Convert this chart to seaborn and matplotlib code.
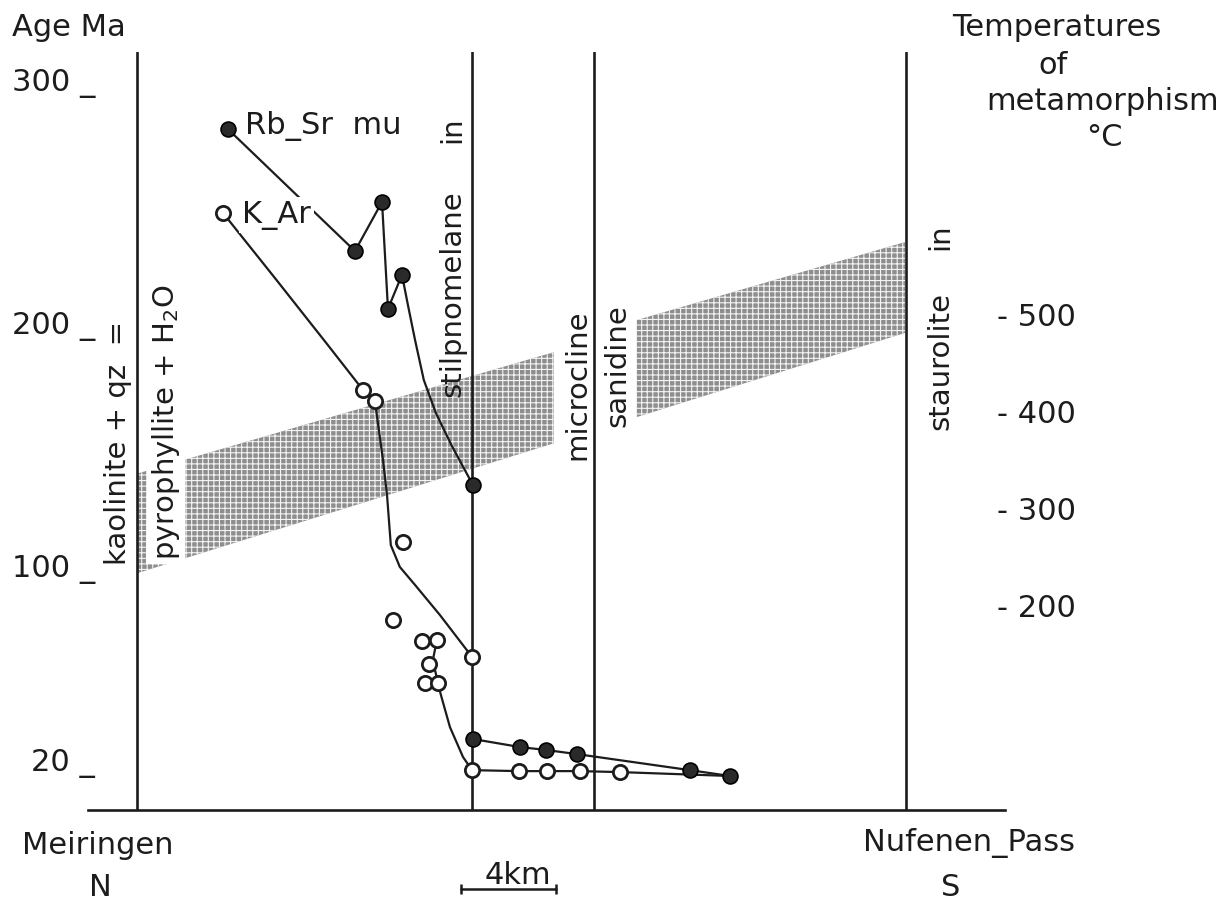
import matplotlib
matplotlib.use("Agg")
import matplotlib.pyplot as plt
import seaborn as sns

# ---------------- data (distance in km from Meiringen, age in Ma) ----------------
rbsr_km = [3.83, 9.18, 10.32, 10.57, 11.16, 14.15, 14.15, 16.13, 17.22, 18.53, 23.28, 24.97]
rbsr_ma = [279.8, 229.6, 249.8, 205.8, 219.8, 133.3, 28.8, 25.5, 24.3, 22.6, 16.0, 13.6]

kar_km = [3.62, 9.52, 10.02, 11.20, 10.78, 12.00, 12.63, 12.29, 12.13, 12.67,
          14.10, 14.11, 16.08, 17.26, 18.65, 20.34]
kar_ma = [245.3, 172.4, 167.9, 109.9, 77.8, 69.1, 69.5, 59.7, 51.9, 51.9,
          62.6, 16.0, 15.6, 15.6, 15.6, 15.2]

# hand-drawn trend curves
rbsr_curve1_km = [3.83, 9.18, 10.32, 10.57, 11.16, 11.41, 11.71, 12.08, 12.59, 13.26, 14.15]
rbsr_curve1_ma = [279.8, 229.6, 249.8, 205.8, 219.8, 207.4, 193.0, 176.5, 162.9, 149.4, 133.3]
rbsr_curve2_km = [14.15, 16.13, 17.22, 18.53, 23.28, 24.97]
rbsr_curve2_ma = [28.8, 25.5, 24.3, 22.6, 16.0, 13.6]
kar_curve1_km = [3.62, 5.81, 8.00, 9.52, 10.02, 10.36, 10.53, 10.69, 11.07, 11.71, 12.76, 13.89, 14.10]
kar_curve1_ma = [245.3, 218.5, 191.4, 172.4, 167.9, 143.6, 129.2, 108.6, 99.6, 92.2, 79.8, 65.4, 62.6]
kar_curve2_km = [12.63, 12.46, 12.67, 12.80, 13.18, 13.73, 14.11, 16.08, 17.26, 18.65, 20.34, 24.97]
kar_curve2_ma = [69.5, 61.3, 51.9, 46.9, 33.7, 21.4, 16.0, 15.6, 15.6, 15.6, 15.2, 13.6]

# isograd positions (km): Meiringen / stilpnomelane-in / microcline-sanidine / staurolite-in
isograd_km = [0.0, 14.10, 19.24, 32.38]

# temperature bands (stippled)
band1_km = [0.0, 17.55]
band1_top = [138.0, 188.0]
band1_bot = [97.0, 150.5]
band2_km = [21.05, 32.34]
band2_top = [201.2, 233.3]
band2_bot = [161.3, 195.9]

age_ticks = [20, 100, 200, 300]
age_labels = ["20 _", "100 _", "200 _", "300 _"]
temp_ticks = [200, 300, 400, 500]
temp_labels = ["- 200", "- 300", "- 400", "- 500"]

# ---------------- figure ----------------
sns.set_theme(style="white")
plt.rcParams["font.family"] = ["DejaVu Sans"]
plt.rcParams["hatch.linewidth"] = 0.8
INK = "#1c1c1c"
FS = 22
FSV = 21

W, H = 1229, 902
fig = plt.figure(figsize=(W / 100, H / 100), dpi=100)
fig.patch.set_facecolor("white")
ax = fig.add_axes([88 / W, 1 - 810 / H, (1005 - 88) / W, (810 - 52) / H])
ax.set_facecolor("white")
ax.set_xlim(-2.06, 36.55)
ax.set_ylim(-0.4, 311.5)


def fx(px):
    return px / W


def fy(py):
    return 1 - py / H


# bands
for bx, bt, bb in [(band1_km, band1_top, band1_bot), (band2_km, band2_top, band2_bot)]:
    ax.fill_between(bx, bb, bt, facecolor="#8e8e8e", edgecolor="#f4f4f4",
                    hatch="+++", linewidth=0, zorder=1)

# isograd vertical lines
for xk in isograd_km:
    ax.axvline(xk, color=INK, lw=1.9, zorder=2)

# trend curves
for cx, cy in [(rbsr_curve1_km, rbsr_curve1_ma), (rbsr_curve2_km, rbsr_curve2_ma),
               (kar_curve1_km, kar_curve1_ma), (kar_curve2_km, kar_curve2_ma)]:
    sns.lineplot(x=cx, y=cy, sort=False, estimator=None, color=INK, lw=1.6,
                 ax=ax, zorder=3)

# points
sns.scatterplot(x=kar_km, y=kar_ma, s=105, color="white", edgecolor=INK,
                linewidth=2.0, ax=ax, zorder=5)
sns.scatterplot(x=rbsr_km, y=rbsr_ma, s=115, color="#2a2a2a", edgecolor="#000000",
                linewidth=1.2, ax=ax, zorder=6)

# axes styling
for s in ["left", "right", "top"]:
    ax.spines[s].set_visible(False)
ax.spines["bottom"].set_color(INK)
ax.spines["bottom"].set_linewidth(1.9)
ax.set_xticks([-2.06])
ax.set_xticklabels([""])
ax.tick_params(axis="x", direction="inout", length=11, width=1.9, color=INK)
ax.set_yticks(age_ticks)
ax.set_yticklabels(age_labels)
ax.tick_params(axis="y", length=0, pad=-5, labelsize=FS, labelcolor=INK)
ax.set_xlabel("")
ax.set_ylabel("")
ax.grid(False)

# temperature scale on the right
a0, slope = 203.3, 100 / 39.8
sec = ax.secondary_yaxis("right", functions=(lambda a: 500 + (a - a0) * slope,
                                              lambda t: a0 + (t - 500) / slope))
sec.set_yticks(temp_ticks)
sec.set_yticklabels(temp_labels)
sec.tick_params(length=0, pad=-6, labelsize=FS, labelcolor=INK)
sec.spines["right"].set_visible(False)

# texts
tkw = dict(transform=fig.transFigure, color=INK, fontsize=FS, clip_on=False)
vkw = dict(transform=fig.transFigure, color=INK, fontsize=FSV, clip_on=False,
           rotation=90, rotation_mode="anchor", ha="left", va="center", zorder=4)
white = dict(facecolor="white", edgecolor="none", pad=2.5)

ax.text(fx(12), fy(27), "Age Ma", ha="left", va="center", **tkw)
ax.text(fx(952), fy(28), "Temperatures", ha="left", va="center", **tkw)
ax.text(fx(1038), fy(66), "of", ha="left", va="center", **tkw)
ax.text(fx(986), fy(101), "metamorphism", ha="left", va="center", **tkw)
ax.text(fx(1086), fy(138), "°C", ha="left", va="center", **tkw)

ax.text(fx(245), fy(126), "Rb_Sr  mu", ha="left", va="center", zorder=4, **tkw)
ax.text(fx(242), fy(215), "K_Ar", ha="left", va="center", zorder=4, bbox=white, **tkw)

ax.text(fx(118), fy(565), "kaolinite + qz  =", **vkw)
ax.text(fx(166), fy(560), "pyrophyllite + H$_2$O", bbox=white, **vkw)
ax.text(fx(452), fy(397), "stilpnomelane", **vkw)
ax.text(fx(452), fy(143), "in", **vkw)
ax.text(fx(577), fy(460), "microcline", **vkw)
ax.text(fx(617), fy(427), "sanidine", **vkw)
ax.text(fx(940), fy(430), "staurolite", **vkw)
ax.text(fx(940), fy(250), "in", **vkw)

ax.text(fx(22), fy(845), "Meiringen", ha="left", va="center", **tkw)
ax.text(fx(100), fy(887), "N", ha="center", va="center", **tkw)
ax.text(fx(863), fy(843), "Nufenen_Pass", ha="left", va="center", **tkw)
ax.text(fx(951), fy(887), "S", ha="center", va="center", **tkw)

# scale bar (4 km)
sb_y = (809 - 889) / 2.43
ax.plot([13.64, 13.64 + 4], [sb_y, sb_y], color=INK, lw=1.8, marker="|",
        markersize=7, markeredgewidth=1.8, clip_on=False)
ax.text(fx(518), fy(876), "4km", ha="center", va="center", **tkw)

fig.savefig("out.png", dpi=100, facecolor="white")
